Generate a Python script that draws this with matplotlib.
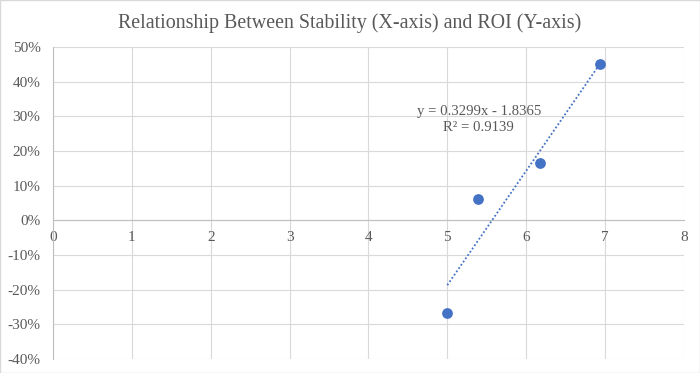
import numpy as np
import matplotlib
matplotlib.use("Agg")
import matplotlib.pyplot as plt
from matplotlib.ticker import FuncFormatter, MultipleLocator

plt.rcParams["font.family"] = ["Liberation Serif", "DejaVu Serif"]

# data
stability = [5.00, 5.39, 6.18, 6.93]
roi = [-0.268, 0.0625, 0.164, 0.450]
slope, intercept = 0.3299, -1.8365
eq_label = "y = 0.3299x - 1.8365\nR² = 0.9139"

GREY = "#595959"
BLUE = "#4472C4"

fig = plt.figure(figsize=(7, 3.73), dpi=100)
ax = fig.add_axes([0.0757, 0.0375, 0.9013, 0.8365])

ax.scatter(stability, roi, s=60, color=BLUE, zorder=5, linewidths=0)
xs = np.array([min(stability), max(stability)])
ax.plot(xs, slope * xs + intercept, ls=(0, (1, 1.2)), lw=1.3, color=BLUE, zorder=4)
ax.text(5.4, 0.29, eq_label, ha="center", va="center", fontsize=10.6,
        color=GREY, linespacing=1.3)

ax.set_xlim(0, 8)
ax.set_ylim(-0.4, 0.5)
ax.xaxis.set_major_locator(MultipleLocator(1))
ax.yaxis.set_major_locator(MultipleLocator(0.1))
ax.yaxis.set_major_formatter(FuncFormatter(lambda v, p: f"{v*100:.0f}%"))
ax.grid(True, color="#d9d9d9", lw=0.8)
ax.set_axisbelow(True)

for s in ["top", "right"]:
    ax.spines[s].set_visible(False)
ax.spines["bottom"].set_position(("data", 0))
ax.spines["bottom"].set_color("#bfbfbf")
ax.spines["left"].set_color("#bfbfbf")
ax.tick_params(length=0, labelsize=11, colors=GREY)
ax.tick_params(axis="y", pad=9)
ax.tick_params(axis="x", pad=8)

fig.suptitle("Relationship Between Stability (X-axis) and ROI (Y-axis)",
             y=0.965, fontsize=14.4, color=GREY)
fig.patches.append(plt.Rectangle((0, 0), 1, 1, transform=fig.transFigure,
                                 fill=False, ec="#d9d9d9", lw=1))
fig.savefig("out.png", dpi=100)
